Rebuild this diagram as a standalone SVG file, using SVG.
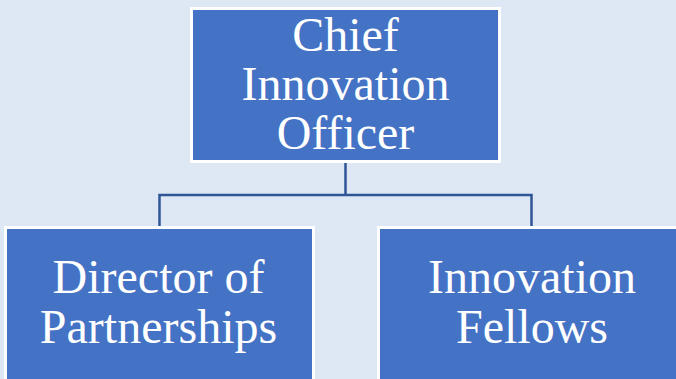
<svg xmlns="http://www.w3.org/2000/svg" width="676" height="379" viewBox="0 0 676 379">
<style>
.box{fill:#4472c4;stroke:#ffffff;stroke-width:3}
.lbl{font-family:"Liberation Serif","Times New Roman",serif;font-size:48px;fill:#ffffff;text-anchor:middle}
.con{fill:none;stroke:#2f5597;stroke-width:2.5}
</style>
<rect width="676" height="379" fill="#dde8f4"/>
<g id="connectors">
<path class="con" d="M345.5 162 V195 M159.5 228 V195 H531.5 V228"/>
</g>
<g id="chief">
<rect class="box" x="191.5" y="8.5" width="308" height="153"/>
<text class="lbl" x="345.5" y="51">Chief</text>
<text class="lbl" x="345.5" y="100">Innovation</text>
<text class="lbl" x="345.5" y="149">Officer</text>
</g>
<g id="director">
<rect class="box" x="5.5" y="227.5" width="308" height="160"/>
<text class="lbl" x="158.5" y="293">Director of</text>
<text class="lbl" x="158.5" y="343">Partnerships</text>
</g>
<g id="fellows">
<rect class="box" x="378.5" y="227.5" width="308" height="160"/>
<text class="lbl" x="532" y="293">Innovation</text>
<text class="lbl" x="532" y="343">Fellows</text>
</g>
</svg>
